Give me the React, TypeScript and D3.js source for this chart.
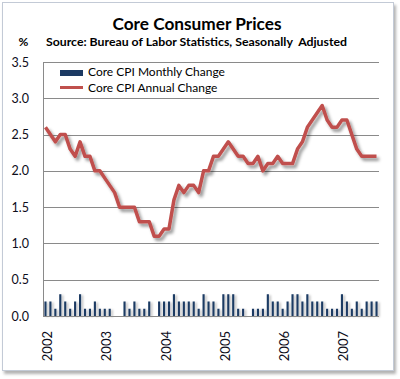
import React from "react";
import * as d3 from "d3";

const yearLabels = ["2002", "2003", "2004", "2005", "2006", "2007"];
const monthNames = ["01", "02", "03", "04", "05", "06", "07", "08", "09", "10", "11", "12"];

const monthlyChange = [
  0.2, 0.2, 0.1, 0.3, 0.2, 0.1, 0.2, 0.3, 0.1, 0.1, 0.2, 0.1,
  0.1, 0.1, 0.0, 0.0, 0.2, 0.1, 0.2, 0.1, 0.1, 0.2, 0.0, 0.2,
  0.2, 0.2, 0.3, 0.2, 0.2, 0.2, 0.2, 0.1, 0.3, 0.2, 0.2, 0.1,
  0.3, 0.3, 0.3, 0.1, 0.1, 0.0, 0.1, 0.1, 0.1, 0.3, 0.2, 0.2,
  0.1, 0.2, 0.3, 0.3, 0.2, 0.3, 0.2, 0.2, 0.2, 0.1, 0.1, 0.1,
  0.3, 0.2, 0.1, 0.2, 0.1, 0.2, 0.2, 0.2,
];

const annualChange = [
  2.6, 2.5, 2.4, 2.5, 2.5, 2.3, 2.2, 2.4, 2.2, 2.2, 2.0, 2.0,
  1.9, 1.8, 1.7, 1.5, 1.5, 1.5, 1.5, 1.3, 1.3, 1.3, 1.1, 1.1,
  1.2, 1.2, 1.6, 1.8, 1.7, 1.8, 1.8, 1.7, 2.0, 2.0, 2.2, 2.2,
  2.3, 2.4, 2.3, 2.2, 2.2, 2.1, 2.1, 2.2, 2.0, 2.1, 2.1, 2.2,
  2.1, 2.1, 2.1, 2.3, 2.4, 2.6, 2.7, 2.8, 2.9, 2.7, 2.6, 2.6,
  2.7, 2.7, 2.5, 2.3, 2.2, 2.2, 2.2, 2.2,
];

const yTicks = [0, 0.5, 1.0, 1.5, 2.0, 2.5, 3.0, 3.5];

const categories = yearLabels
  .flatMap((y) => monthNames.map((m) => `${y}-${m}`))
  .slice(0, monthlyChange.length);

const BAR_COLOR = "#1c3a63";
const LINE_COLOR = "#c0504d";
const GRID_COLOR = "#8a8a8a";
const FONT = "Lato, 'Open Sans', sans-serif";

export default function App() {
  const W = 400;
  const H = 379;
  const left = 43;
  const right = 379;
  const top = 62;
  const bottom = 316;

  const x = d3
    .scaleBand<string>()
    .domain(categories)
    .range([left, right])
    .paddingInner(0.57)
    .paddingOuter(0.285);
  const bw = x.bandwidth();
  const cx = (c: string) => (x(c) as number) + bw / 2;

  const y = d3.scaleLinear().domain([0, 3.5]).range([bottom, top]);

  const line = d3
    .line<number>()
    .x((_, i) => cx(categories[i]))
    .y((d) => y(d))
    .curve(d3.curveLinear);

  return (
    <svg
      width={W}
      height={H}
      style={{ position: "absolute", left: 0, top: 0, background: "#fff" }}
      fontFamily={FONT}
    >
      <defs>
        <filter id="shadow" x="-10%" y="-10%" width="130%" height="130%">
          <feDropShadow dx="2.5" dy="3" stdDeviation="1.5" floodColor="#000" floodOpacity="0.4" />
        </filter>
        <filter id="barShadow" x="-50%" y="-10%" width="250%" height="130%">
          <feDropShadow dx="2" dy="1" stdDeviation="1.2" floodColor="#000" floodOpacity="0.25" />
        </filter>
        <filter id="frameShadow" x="-5%" y="-5%" width="110%" height="110%">
          <feDropShadow dx="2" dy="3" stdDeviation="1.8" floodColor="#000" floodOpacity="0.3" />
        </filter>
      </defs>

      {/* outer frame */}
      <rect
        x={2.5}
        y={2.5}
        width={391}
        height={368}
        fill="#fff"
        stroke="#c3cad6"
        strokeWidth={1}
        filter="url(#frameShadow)"
      />

      {/* titles */}
      <text
        x={197}
        y={29.5}
        textAnchor="middle"
        fontSize={17}
        fontWeight="bold"
        fill="#000"
        textLength={169}
        lengthAdjust="spacingAndGlyphs"
      >
        Core Consumer Prices
      </text>
      <text
        x={46}
        y={46}
        fontSize={11.5}
        fontWeight="bold"
        fill="#000"
        textLength={301}
        lengthAdjust="spacingAndGlyphs"
      >
        {"Source: Bureau of Labor Statistics, Seasonally\u00a0 Adjusted"}
      </text>
      <text x={23.5} y={46} textAnchor="middle" fontSize={12} fontWeight="bold" fill="#000">
        %
      </text>

      {/* gridlines */}
      {yTicks
        .filter((t) => t > 0)
        .map((t) => (
          <line
            key={`g${t}`}
            x1={left}
            x2={right}
            y1={Math.round(y(t)) + 0.5}
            y2={Math.round(y(t)) + 0.5}
            stroke={GRID_COLOR}
            strokeWidth={1}
          />
        ))}

      {/* y tick labels */}
      {yTicks.map((t) => (
        <text
          key={`yl${t}`}
          x={29}
          y={y(t) + 4.5}
          textAnchor="end"
          fontSize={12.5}
          fill="#0d0d1a"
        >
          {t.toFixed(1)}
        </text>
      ))}

      {/* bars */}
      <g filter="url(#barShadow)">
        {monthlyChange.map((v, i) => (
          <rect
            key={`b${i}`}
            x={x(categories[i]) as number}
            y={y(v)}
            width={bw}
            height={bottom - y(v)}
            fill={BAR_COLOR}
          />
        ))}
      </g>

      {/* axes */}
      <line x1={left + 0.5} x2={left + 0.5} y1={top} y2={bottom + 0.5} stroke={GRID_COLOR} strokeWidth={1} />
      <line x1={left} x2={right} y1={bottom + 0.5} y2={bottom + 0.5} stroke={GRID_COLOR} strokeWidth={1} />

      {/* annual change line */}
      <path
        d={line(annualChange) || ""}
        fill="none"
        stroke={LINE_COLOR}
        strokeWidth={3.5}
        strokeLinejoin="round"
        filter="url(#shadow)"
      />

      {/* x labels */}
      {yearLabels.map((yr, k) => {
        const c = categories[k * 12];
        if (!c) return null;
        const tx = cx(c) + 1.5;
        return (
          <text
            key={`xl${yr}`}
            transform={`translate(${tx},331) rotate(-90)`}
            textAnchor="end"
            dominantBaseline="central"
            fontSize={13}
            fill="#0d0d1a"
          >
            {yr}
          </text>
        );
      })}

      {/* legend */}
      <rect x={60} y={70} width={23} height={6} fill={BAR_COLOR} />
      <text x={88} y={76} fontSize={12} fill="#000">
        Core CPI Monthly Change
      </text>
      <line x1={60} x2={83} y1={87.5} y2={87.5} stroke={LINE_COLOR} strokeWidth={3} />
      <text x={88} y={91.5} fontSize={12} fill="#000">
        Core CPI Annual Change
      </text>
    </svg>
  );
}
